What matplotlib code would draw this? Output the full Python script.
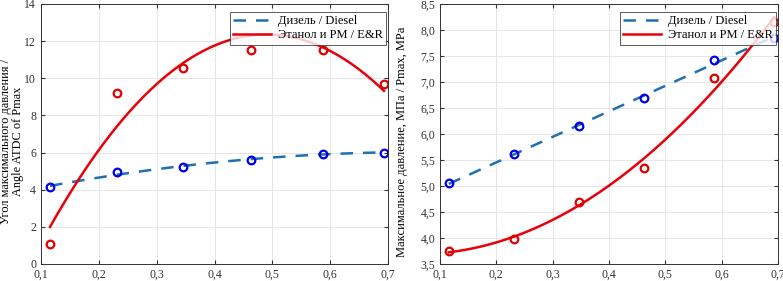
import numpy as np
import matplotlib.pyplot as plt
from matplotlib.ticker import FuncFormatter

plt.rcParams['font.family'] = ['Liberation Serif', 'DejaVu Serif']

# load fraction (x) for both panels
load = [0.1156, 0.2318, 0.346, 0.4624, 0.587, 0.693]

# left: angle ATDC of Pmax
angle_diesel = [4.15, 4.95, 5.2, 5.6, 5.95, 6.0]
angle_ethanol = [1.1, 9.2, 10.55, 11.5, 11.5, 9.7]

# right: Pmax, MPa
pmax_diesel = [5.05, 5.62, 6.15, 6.7, 7.42, 7.85]
pmax_ethanol = [3.75, 3.98, 4.7, 5.35, 7.07, 8.15]

label_d = "Дизель / Diesel"
label_e = "Этанол и РМ / E&R"

line_blue = "#1f6fb2"
line_red = "#e8000b"
mark_blue = "#0000e6"
mark_red = "#e00000"

comma = lambda fmt: FuncFormatter(lambda v, p: (fmt % v).replace(".", ","))


def panel(ax, yd, ye, deg_d, deg_e, ylim, yticks, yfmt, ylabel, lsize, lx):
    x = np.array(load)
    xs = np.linspace(x.min(), x.max(), 200)
    pd_ = np.polyfit(x, yd, deg_d)
    pe = np.polyfit(x, ye, deg_e)
    ax.plot(xs, np.polyval(pd_, xs), "--", color=line_blue, lw=1.8,
            dashes=(5, 4), label=label_d)
    ax.plot(xs, np.polyval(pe, xs), "-", color=line_red, lw=1.8, label=label_e)
    ax.plot(x, yd, "o", mfc="none", mec=mark_blue, mew=1.6, ms=5.5)
    ax.plot(x, ye, "o", mfc="none", mec=mark_red, mew=1.6, ms=5.5)
    ax.set_xlim(0.1, 0.7)
    ax.set_ylim(*ylim)
    ax.set_xticks(np.arange(0.1, 0.71, 0.1))
    ax.set_yticks(yticks)
    ax.xaxis.set_major_formatter(comma("%.1f"))
    ax.yaxis.set_major_formatter(yfmt)
    ax.grid(True, color="#e6e6e6", lw=0.7)
    ax.tick_params(direction="in", labelsize=8.5, colors="#333333",
                   top=True, right=True, length=3)
    for s in ax.spines.values():
        s.set_color("#333333")
        s.set_linewidth(0.7)
    ax.set_ylabel(ylabel, fontsize=lsize, linespacing=1.0)
    ax.yaxis.set_label_coords(lx, 0.47)
    leg = ax.legend(loc="upper right", bbox_to_anchor=(0.995, 0.97),
                    fontsize=9, frameon=True, fancybox=False,
                    handlelength=3, borderpad=0.25, labelspacing=0.2,
                    handletextpad=0.6, borderaxespad=0.0)
    leg.get_frame().set_edgecolor("#333333")
    leg.get_frame().set_linewidth(0.7)


fig = plt.figure(figsize=(7.83, 2.81), dpi=100)
ax1 = fig.add_axes([41 / 783, 17 / 281, 347 / 783, 260 / 281])
ax2 = fig.add_axes([440 / 783, 17 / 281, 338 / 783, 260 / 281])

panel(ax1, angle_diesel, angle_ethanol, 2, 2, (0, 14), np.arange(0, 15, 2),
      FuncFormatter(lambda v, p: "%d" % v),
      "Угол максимального давления /\nAngle ATDC of Pmax", 8.8, -17 / 347)
panel(ax2, pmax_diesel, pmax_ethanol, 1, 2, (3.5, 8.5),
      np.arange(3.5, 8.51, 0.5), comma("%.1f"),
      "Максимальное давление, МПа / Pmax, MPa", 9, -32 / 338)

fig.savefig("out.png", dpi=100)
